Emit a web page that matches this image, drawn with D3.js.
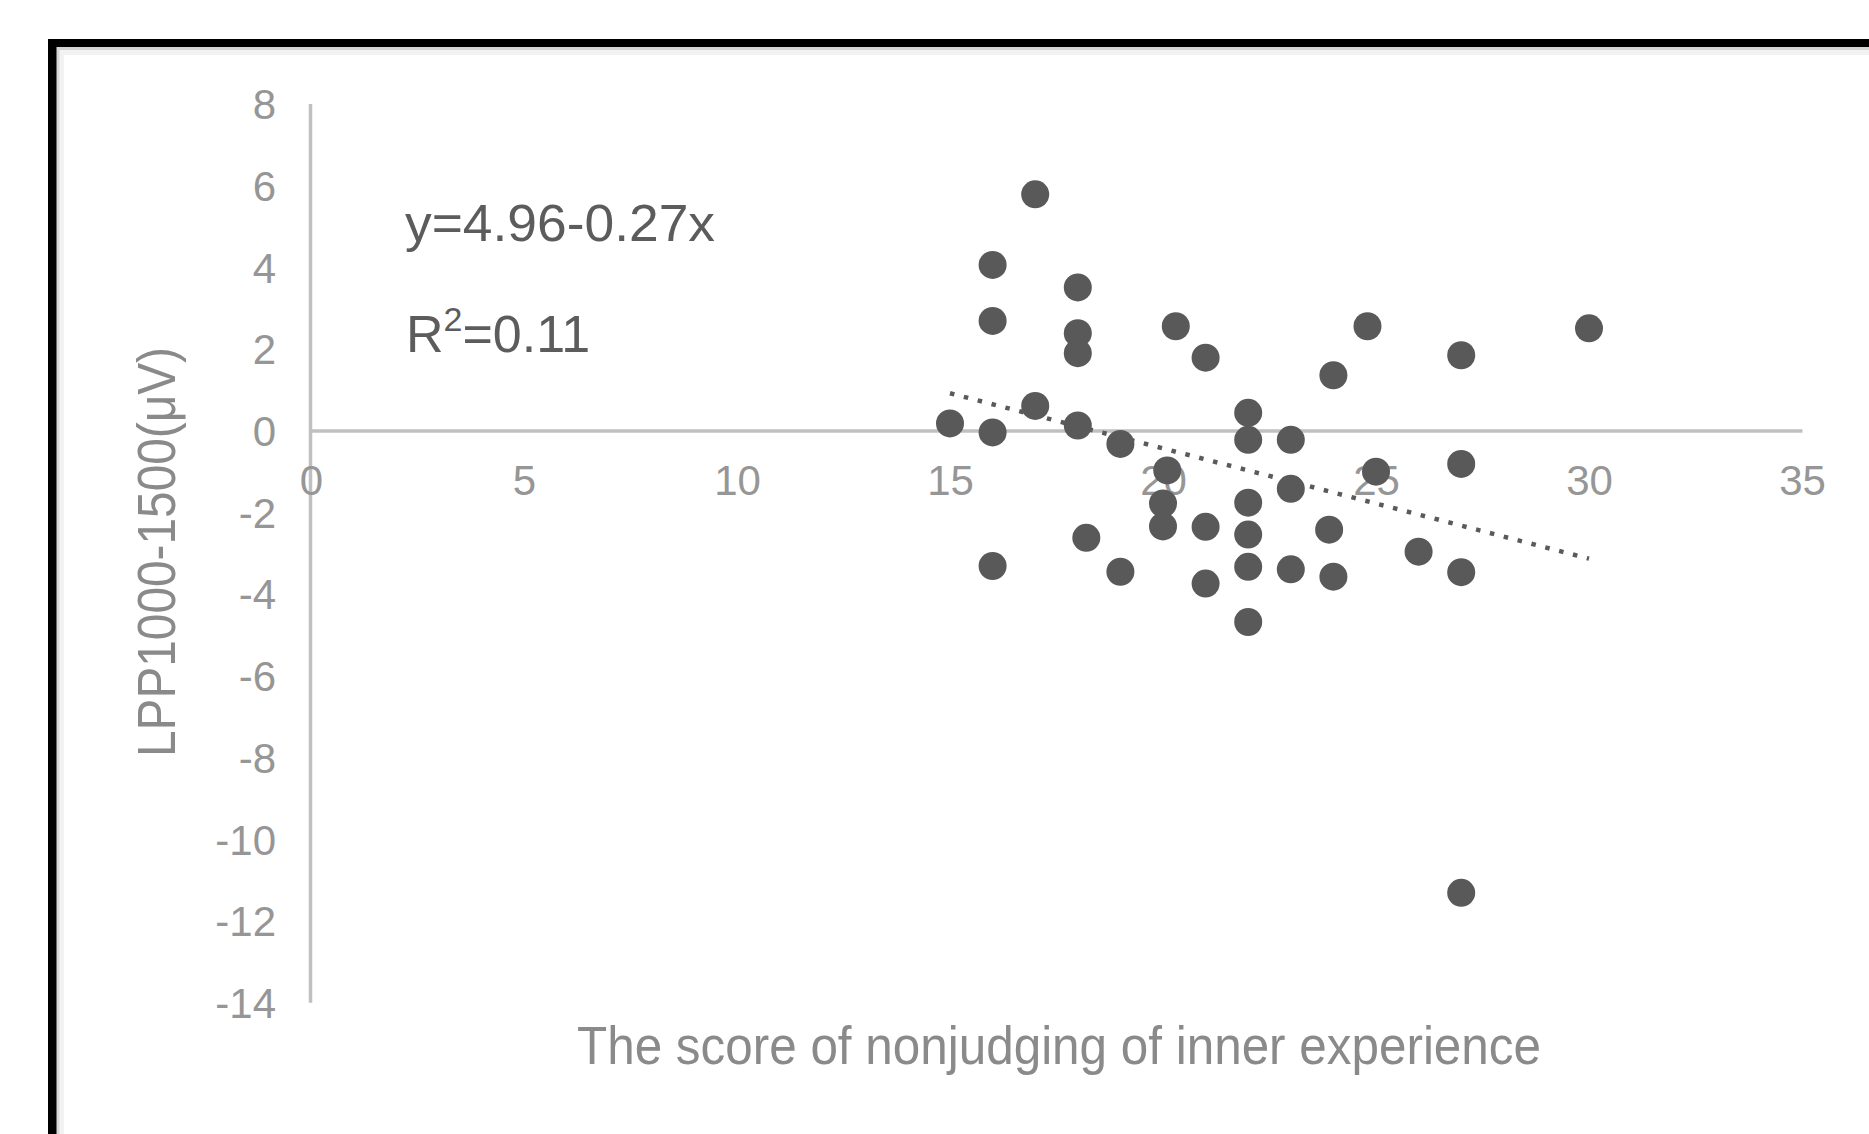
<!DOCTYPE html>
<html>
<head>
<meta charset="utf-8">
<script src="https://cdn.jsdelivr.net/npm/d3@7"></script>
<style>
  html, body { margin: 0; padding: 0; background: #ffffff; overflow: hidden; }
  svg { display: block; }
</style>
</head>
<body>
<svg id="chart" width="1869" height="1134"></svg>
<script>
// ---- data ----
const scoreX = [17, 16, 18, 16, 18, 18, 20.3, 21, 24.8, 27, 30, 24, 17, 15, 16, 18, 19, 22, 22, 23, 27, 20.1, 25, 23, 20, 22, 20, 21, 22, 23.9, 18.2, 16, 19, 21, 22, 23, 24, 26, 27, 22, 27];
const lppY   = [5.78, 4.05, 3.5, 2.68, 2.38, 1.89, 2.55, 1.78, 2.55, 1.84, 2.5, 1.35, 0.6, 0.17, -0.05, 0.12, -0.33, 0.43, -0.23, -0.23, -0.82, -0.98, -1.01, -1.43, -1.79, -1.77, -2.35, -2.36, -2.55, -2.43, -2.63, -3.32, -3.46, -3.75, -3.34, -3.4, -3.58, -2.97, -3.47, -4.69, -11.32];
const xTicks = [0, 5, 10, 15, 20, 25, 30, 35];
const yTicks = [-14, -12, -10, -8, -6, -4, -2, 0, 2, 4, 6, 8];
const trendIntercept = [4.96];
const trendSlope = [-0.27];
const xTitle = "The score of nonjudging of inner experience";
const yTitle = "LPP1000-1500(μV)";
const eqLine = "y=4.96-0.27x";
const r2Value = "0.11";

// ---- drawing ----
const svg = d3.select("#chart");
const FONT = "'Liberation Sans', Arial, sans-serif";

// frame (thick black border running off the page) with inner grey shading
svg.append("rect").attr("x", 48).attr("y", 39).attr("width", 1900).attr("height", 1200).attr("fill", "#000");
svg.append("rect").attr("x", 56.5).attr("y", 47).attr("width", 1900).attr("height", 1200).attr("fill", "#d6d6d6");
svg.append("rect").attr("x", 59.5).attr("y", 50).attr("width", 1900).attr("height", 1200).attr("fill", "#f2f2f2");
svg.append("rect").attr("x", 64).attr("y", 55).attr("width", 1900).attr("height", 1200).attr("fill", "#ffffff");

const x = d3.scaleLinear().domain([0, 35]).range([311, 1802]);
const y = d3.scaleLinear().domain([-14, 8]).range([1002.3, 103.6]);

// y axis
const yAxis = d3.axisLeft(y).tickValues(yTicks).tickSize(0).tickPadding(34).tickFormat(d => String(d));
const gy = svg.append("g").attr("transform", `translate(${x(0) - 1},0)`).call(yAxis);
gy.select(".domain").attr("stroke", "#c0c0c0").attr("stroke-width", 3.5);
gy.selectAll("text").attr("font-family", FONT).attr("font-size", 42).attr("fill", "#969696").attr("dy", "0.36em");

// x axis at y = 0
const xAxis = d3.axisBottom(x).tickValues(xTicks).tickSize(0).tickPadding(35).tickFormat(d => String(d));
const gx = svg.append("g").attr("transform", `translate(0,${y(0)})`).call(xAxis);
gx.select(".domain").attr("stroke", "#c0c0c0").attr("stroke-width", 3.5);
gx.selectAll("text").attr("font-family", FONT).attr("font-size", 42).attr("fill", "#969696");

// points
const pts = scoreX.map((v, i) => ({ x: v, y: lppY[i] }));
svg.append("g").selectAll("circle").data(pts).join("circle")
  .attr("cx", d => x(d.x)).attr("cy", d => y(d.y)).attr("r", 14)
  .attr("fill", "#595959");

// dotted linear trendline across the data range
const xmin = d3.min(scoreX), xmax = d3.max(scoreX);
const trend = [xmin, xmax].map(v => ({ x: v, y: trendIntercept[0] + trendSlope[0] * v }));
svg.append("path").datum(trend)
  .attr("d", d3.line().x(d => x(d.x)).y(d => y(d.y)))
  .attr("fill", "none").attr("stroke", "#5a5a5a").attr("stroke-width", 4.5)
  .attr("stroke-dasharray", "4.5 9.8");

// equation and R²
svg.append("text").attr("x", 405).attr("y", 241).attr("font-family", FONT).attr("font-size", 52)
  .attr("fill", "#5c5c5c").attr("textLength", 310).attr("lengthAdjust", "spacingAndGlyphs").text(eqLine);
const r2 = svg.append("text").attr("x", 406).attr("y", 352).attr("font-family", FONT).attr("font-size", 52).attr("fill", "#5c5c5c");
r2.append("tspan").text("R");
r2.append("tspan").attr("font-size", 34).attr("dy", -21).text("2");
r2.append("tspan").attr("dy", 21).text("=" + r2Value);

// axis titles
svg.append("text").attr("x", 577).attr("y", 1064).attr("font-family", FONT).attr("font-size", 53)
  .attr("fill", "#8a8a8a").attr("textLength", 964).attr("lengthAdjust", "spacingAndGlyphs").text(xTitle);
svg.append("text").attr("transform", "translate(175,552) rotate(-90)").attr("text-anchor", "middle")
  .attr("font-family", FONT).attr("font-size", 53).attr("fill", "#8a8a8a")
  .attr("textLength", 410).attr("lengthAdjust", "spacingAndGlyphs").text(yTitle);
</script>
</body>
</html>
